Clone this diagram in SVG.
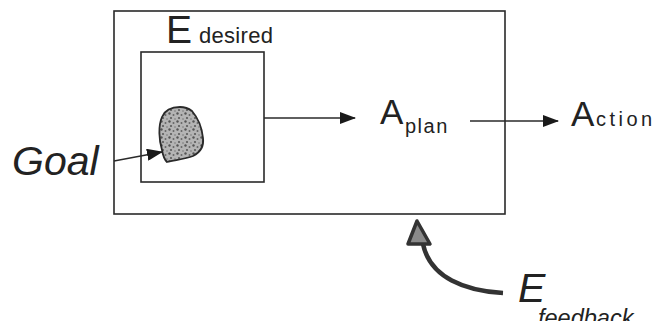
<svg xmlns="http://www.w3.org/2000/svg" width="662" height="321" viewBox="0 0 662 321">
<style>
.box{fill:none;stroke:#2a2a2a;stroke-width:1.6}
.ln{fill:none;stroke:#2a2a2a;stroke-width:1.6}
.t{font-family:"Liberation Sans",Arial,sans-serif;fill:#222}
.it{font-style:italic}
</style>
<defs>
<marker id="ah" viewBox="0 0 16 12" refX="15" refY="6" markerWidth="16" markerHeight="12" markerUnits="userSpaceOnUse" orient="auto">
<path d="M0,0 L16,6 L0,12 z" fill="#1a1a1a"/>
</marker>
<pattern id="stip" width="8" height="8" patternUnits="userSpaceOnUse">
<rect width="8" height="8" fill="#b4b4b4"/>
<circle cx="1.5" cy="1.5" r="1.2" fill="#555"/>
<circle cx="5.5" cy="3" r="1" fill="#666"/>
<circle cx="3" cy="6" r="1.1" fill="#5a5a5a"/>
<circle cx="7" cy="7" r="0.8" fill="#777"/>
</pattern>
</defs>
<g id="outer">
<rect class="box" x="114" y="11" width="391" height="203"/>
</g>
<g id="edesired">
<rect class="box" x="141" y="52" width="123" height="130"/>
<text class="t" x="166" y="43" font-size="39">E</text>
<text class="t" x="199" y="43" font-size="22" letter-spacing="0.3">desired</text>
</g>
<g id="goal-blob">
<path d="M180,107 C172,107 165,110 162,117 C158,126 159,140 162,150 C163,156 165,160 167,162 C175,160 185,159 193,156 C201,152 204,146 203,138 C202,128 198,118 192,111 C188,108 184,107 180,107 Z" fill="url(#stip)" stroke="#2a2a2a" stroke-width="1.8"/>
</g>
<g id="goal">
<text class="t it" x="12" y="175" font-size="41">Goal</text>
</g>
<g id="aplan">
<text class="t" x="380" y="124" font-size="35">A</text>
<text class="t" x="405" y="133" font-size="20" letter-spacing="1.5">plan</text>
</g>
<g id="action">
<text class="t" x="571" y="126" font-size="35">A</text>
<text class="t" x="596" y="126" font-size="20" letter-spacing="3.5">ction</text>
</g>
<g id="efeedback">
<text class="t it" x="518" y="302" font-size="41">E</text>
<text class="t it" x="538" y="326" font-size="23.5">feedback</text>
</g>
<g id="connectors">
<line class="ln" x1="114" y1="161" x2="162" y2="152" marker-end="url(#ah)"/>
<line class="ln" x1="264" y1="118" x2="355" y2="118" marker-end="url(#ah)"/>
<line class="ln" x1="470" y1="121" x2="558" y2="121" marker-end="url(#ah)"/>
<path d="M503,293 C466,291 430,278 423,244" fill="none" stroke="#333" stroke-width="4.5"/>
<path d="M417,221 L430,244 L408,244 Z" fill="#8a8a8a" stroke="#333" stroke-width="3.5" stroke-linejoin="round"/>
</g>
</svg>
